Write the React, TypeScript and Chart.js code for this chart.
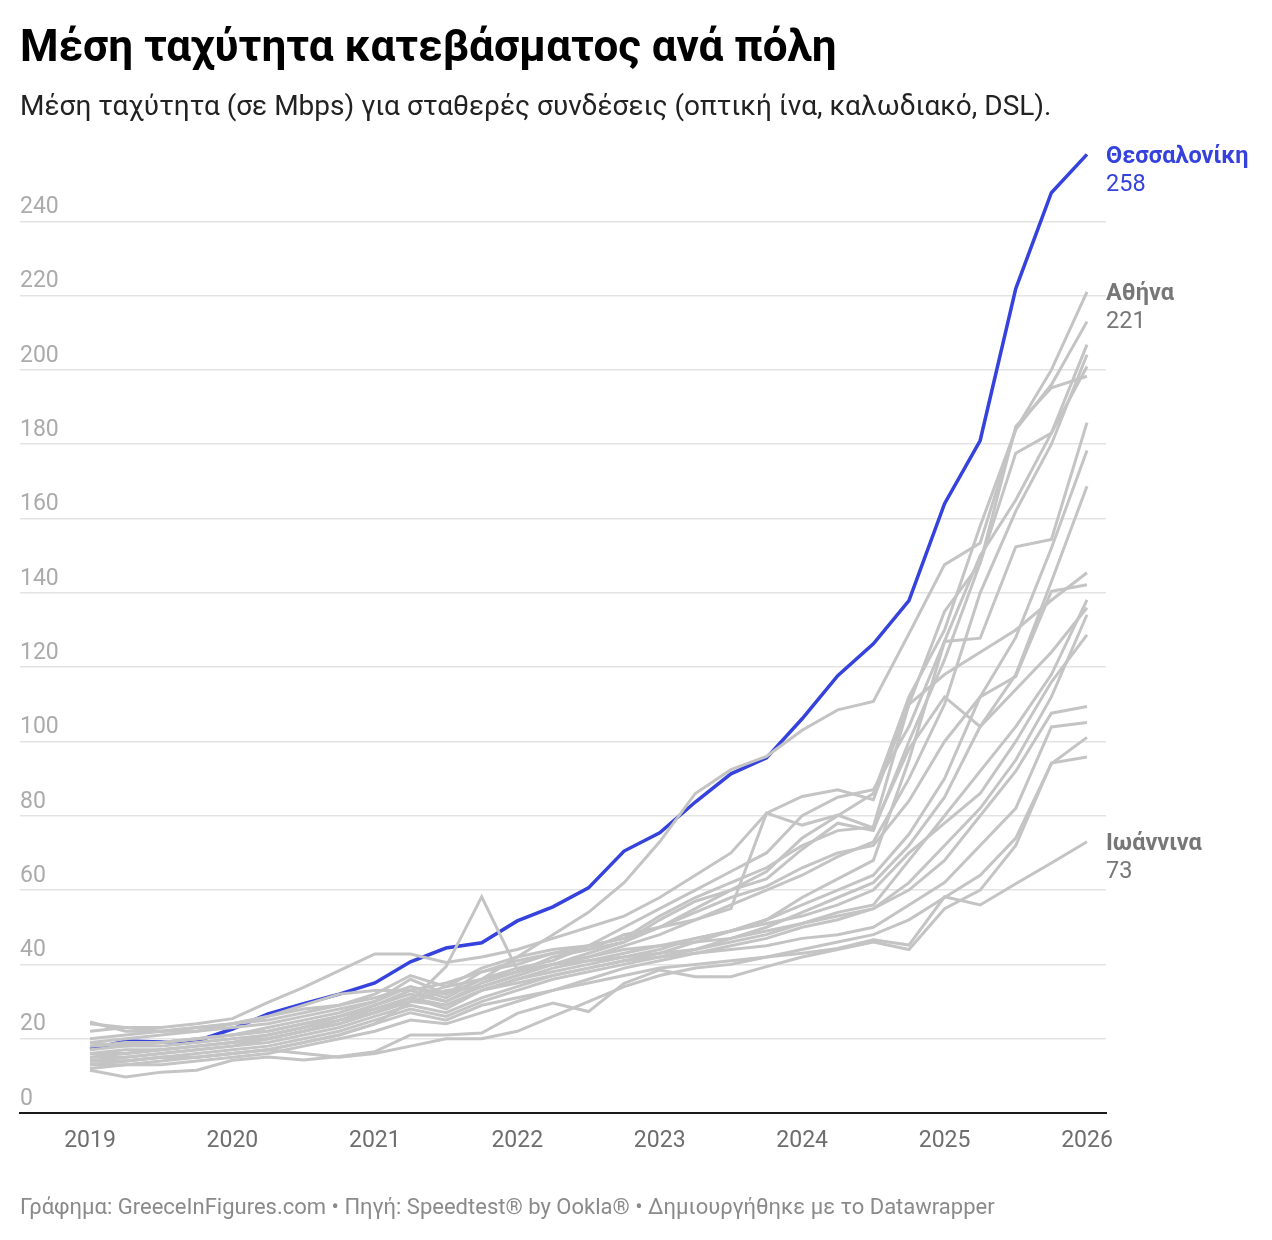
import { useEffect, useRef } from "react";
import { Chart, registerables } from "chart.js";

Chart.register(...registerables);

// Quarterly observations, 2019 Q1 – 2026 Q1
const QUARTERS = [
  "2019 Q1", "2019 Q2", "2019 Q3", "2019 Q4",
  "2020 Q1", "2020 Q2", "2020 Q3", "2020 Q4",
  "2021 Q1", "2021 Q2", "2021 Q3", "2021 Q4",
  "2022 Q1", "2022 Q2", "2022 Q3", "2022 Q4",
  "2023 Q1", "2023 Q2", "2023 Q3", "2023 Q4",
  "2024 Q1", "2024 Q2", "2024 Q3", "2024 Q4",
  "2025 Q1", "2025 Q2", "2025 Q3", "2025 Q4",
  "2026 Q1",
];

const Y_TICKS = [0, 20, 40, 60, 80, 100, 120, 140, 160, 180, 200, 220, 240];

// Highlighted city
const THESSALONIKI = [17.2, 19.4, 19.1, 19.4, 22.6, 26.7, 29.4, 32, 35, 40.7, 44.4, 45.8, 51.7, 55.5, 60.6, 70.5, 75.4, 83.7, 91.3, 95.6, 106.1, 117.7, 126.3, 137.9, 164, 181, 221.9, 247.7, 258];

// Labelled grey cities
const ATHENS = [18, 18.5, 19, 20, 21, 22, 24, 26, 28, 31, 34, 36, 42, 48, 54, 62, 73, 86, 92.4, 96, 103, 108.5, 110.8, 129, 147.6, 153.4, 184, 200, 221];
const IOANNINA = [14, 14, 15, 15, 16, 17, 16, 15, 16, 18, 20, 20, 22, 26, 30, 34, 37, 39, 40, 42, 43, 44.3, 46.6, 45.2, 58.2, 56, 61.7, 67.3, 73];

// Remaining cities (unlabelled grey lines)
const CITY_03 = [15, 16, 17, 18, 19, 21, 23, 26, 29, 33, 30, 35, 38, 42, 44, 48, 50, 55, 60, 65, 74, 80, 86, 112, 130, 158, 184, 196, 213];
const CITY_04 = [24, 23, 22, 22, 23, 24, 26, 28, 30, 36, 32, 38, 40, 43, 44, 46, 52, 57, 60, 63, 71, 78, 76, 100, 122, 148, 177.6, 183, 206.8];
const CITY_05 = [14, 15, 16, 17, 18, 20, 22, 24, 27, 30, 33, 34, 37, 40, 42, 45, 48, 52, 56, 60, 64, 69, 73, 90, 110, 140, 162, 180, 204.1];
const CITY_06 = [17, 18, 19, 20, 21, 23, 25, 27, 30, 34, 31, 36, 39, 41, 45, 50, 55, 60, 65, 70, 80, 85, 87, 104, 127, 150, 165, 183, 200.9];
const CITY_07 = [19, 20, 21, 22, 24, 26, 28, 29, 32, 37, 34, 39, 42, 44, 45, 47, 53, 58, 62, 66, 72, 76, 77, 110, 135, 148, 184.8, 195.2, 198.3];
const CITY_08 = [16, 17, 17, 18, 19, 20, 22, 24, 27, 31, 28, 33, 36, 38, 40, 42, 44, 47, 49, 52, 58, 63, 68, 95, 126.9, 127.8, 152.4, 154.4, 185.8];
const CITY_09 = [15, 15, 16, 17, 18, 19, 21, 23, 26, 29, 27, 31, 34, 37, 39, 41, 43, 46, 49, 52, 56, 60, 64, 75, 90, 112, 128, 152, 178.3];
const CITY_10 = [13, 14, 15, 16, 17, 18, 20, 22, 25, 28, 26, 30, 33, 36, 38, 40, 42, 44, 47, 50, 54, 58, 62, 72, 85, 104, 118, 143, 168.7];
const CITY_11 = [22, 23, 23, 24, 25.4, 29.8, 33.8, 38.3, 42.8, 42.8, 40.5, 42, 44, 47, 50, 53, 58, 64, 70, 80.7, 85.2, 87, 84.3, 110, 118, 124, 130, 138, 145.4];
const CITY_12 = [18, 19, 19, 20, 21, 22, 24, 26, 29, 32, 30, 34, 37, 40, 43, 46, 50, 54, 58, 61, 66, 70, 72, 84, 100, 112, 117.5, 140.4, 142.2];
const CITY_13 = [14, 14, 15, 15, 16, 17, 19, 21, 24, 30, 39.4, 58.2, 38.5, 40, 41, 42, 43, 44, 46, 48, 51, 54, 56, 68, 80, 92, 104, 118, 138.1];
const CITY_14 = [20, 21, 22, 23, 24, 26, 29, 32, 33, 33, 35, 38, 41, 43, 45, 47, 50, 52, 55, 80.7, 77.5, 80.2, 76.7, 98, 112, 104, 114, 124, 136];
const CITY_15 = [12, 13, 13, 14, 15, 16, 18, 20, 22, 25, 24, 27, 30, 33, 36, 39, 41, 43, 45, 47, 50, 52, 55, 62, 72, 82, 95, 112, 134.1];
const CITY_16 = [16, 16, 17, 18, 19, 20, 22, 25, 28, 31, 29, 33, 36, 39, 41, 43, 45, 47, 49, 51, 53, 56, 60, 70, 78, 86, 100, 116, 128.7];
const CITY_17 = [24.5, 22, 22, 23, 24, 25, 27, 29, 31, 34, 32, 36, 38, 40, 42, 44, 45, 46, 47, 49, 51, 53, 55, 60, 68, 80, 92, 107.6, 109.4];
const CITY_18 = [19, 18, 18, 19, 20, 21, 23, 25, 27, 30, 29, 33, 35, 37, 39, 41, 42, 43, 44, 45, 47, 48, 50, 56, 62, 72, 82, 103.9, 105.1];
const CITY_19 = [13, 13, 14, 15, 16, 17, 19, 21, 24, 27, 25, 29, 31, 33, 35, 37, 39, 40, 41, 42, 44, 46, 48, 52, 58, 64, 74, 94, 101.1];
const CITY_20 = [11.5, 9.7, 11, 11.5, 14.2, 15.1, 14.3, 15.2, 16.5, 21, 21, 21.5, 26.8, 29.6, 27.3, 34.9, 38.5, 36.7, 36.7, 39.4, 42, 44, 46, 44, 55, 60, 72, 94.2, 95.8];

const GREY_SERIES = [
  CITY_03, CITY_04, CITY_05, CITY_06, CITY_07, CITY_08, CITY_09, CITY_10,
  CITY_11, CITY_12, CITY_13, CITY_14, CITY_15, CITY_16, CITY_17, CITY_18,
  CITY_19, CITY_20,
];

const BLUE = "#3543dc";
const GREY_LINE = "#c4c4c4";
const GREY_TEXT = "#777777";
const FONT = "Roboto, 'Noto Sans', sans-serif";

type EndLabel = { name: string; color: string };

const toPoints = (values: number[]) => values.map((y, i) => ({ x: i, y }));

const endLabelPlugin = {
  id: "endLabels",
  afterDatasetsDraw(chart: any) {
    const { ctx } = chart;
    const xRight = chart.chartArea.right;
    chart.data.datasets.forEach((ds: any, di: number) => {
      const lbl: EndLabel | undefined = ds.endLabel;
      if (!lbl) return;
      const meta = chart.getDatasetMeta(di);
      const last = meta.data[meta.data.length - 1];
      const value = ds.data[ds.data.length - 1].y;
      ctx.save();
      ctx.fillStyle = lbl.color;
      ctx.textAlign = "left";
      ctx.textBaseline = "middle";
      ctx.font = `bold 23.5px ${FONT}`;
      ctx.fillText(lbl.name, xRight, last.y + 2.5);
      ctx.font = `23.5px ${FONT}`;
      ctx.fillText(String(Math.round(value)), xRight, last.y + 30.5);
      ctx.restore();
    });
  },
};

export default function App() {
  const canvasRef = useRef<HTMLCanvasElement | null>(null);

  useEffect(() => {
    if (!canvasRef.current) return;

    const greyDatasets = GREY_SERIES.map((values, k) => ({
      label: `city-${k + 3}`,
      data: toPoints(values),
      borderColor: GREY_LINE,
      borderWidth: 3,
      pointRadius: 0,
      tension: 0,
    }));

    const yearTickIndexes = QUARTERS.map((q, i) => (q.endsWith("Q1") ? i : -1)).filter((i) => i >= 0);

    const chart = new Chart(canvasRef.current, {
      type: "line",
      data: {
        datasets: [
          ...greyDatasets,
          {
            label: "Ιωάννινα",
            data: toPoints(IOANNINA),
            borderColor: GREY_LINE,
            borderWidth: 3,
            pointRadius: 0,
            tension: 0,
            endLabel: { name: "Ιωάννινα", color: GREY_TEXT },
          } as any,
          {
            label: "Αθήνα",
            data: toPoints(ATHENS),
            borderColor: GREY_LINE,
            borderWidth: 3,
            pointRadius: 0,
            tension: 0,
            endLabel: { name: "Αθήνα", color: GREY_TEXT },
          } as any,
          {
            label: "Θεσσαλονίκη",
            data: toPoints(THESSALONIKI),
            borderColor: BLUE,
            borderWidth: 3.5,
            pointRadius: 0,
            tension: 0,
            endLabel: { name: "Θεσσαλονίκη", color: BLUE },
          } as any,
        ],
      },
      options: {
        animation: false,
        responsive: false,
        maintainAspectRatio: false,
        layout: { padding: { left: 20, right: 166, top: 147, bottom: 67 } },
        plugins: {
          legend: { display: false },
          tooltip: { enabled: false },
        },
        scales: {
          x: {
            type: "linear",
            min: -1.966,
            max: 28.534,
            afterBuildTicks: (scale: any) => {
              scale.ticks = yearTickIndexes.map((value) => ({ value }));
            },
            afterFit: (scale: any) => {
              scale.height = 60;
            },
            grid: { display: false, drawTicks: false },
            border: { display: true, color: "#1a1a1a", width: 2 },
            ticks: {
              autoSkip: false,
              maxRotation: 0,
              padding: 14,
              color: "#6e6e6e",
              font: { family: FONT, size: 23 },
              callback: (v: any) => QUARTERS[v as number].slice(0, 4),
            },
          },
          y: {
            min: 0,
            max: 260,
            afterBuildTicks: (scale: any) => {
              scale.ticks = Y_TICKS.map((value) => ({ value }));
            },
            afterFit: (scale: any) => {
              scale.width = 0;
            },
            grid: {
              color: (c: any) => (c.tick && c.tick.value === 0 ? "rgba(0,0,0,0)" : "#e3e3e3"),
              lineWidth: 1.5,
              drawTicks: false,
            },
            border: { display: false },
            ticks: {
              mirror: true,
              padding: 0,
              labelOffset: -14,
              color: "#ababab",
              font: { family: FONT, size: 23 },
            },
          },
        },
      },
      plugins: [endLabelPlugin],
    } as any);

    return () => chart.destroy();
  }, []);

  return (
    <div style={{ position: "absolute", left: 0, top: 0, width: 1272, height: 1240, background: "#fff", fontFamily: FONT }}>
      <canvas ref={canvasRef} width={1272} height={1240} style={{ position: "absolute", left: 0, top: 0 }} />
      <div style={{ position: "absolute", left: 20, top: 18, fontSize: 44, fontWeight: 700, color: "#000", lineHeight: "56px", whiteSpace: "nowrap" }}>
        Μέση ταχύτητα κατεβάσματος ανά πόλη
      </div>
      <div style={{ position: "absolute", left: 20, top: 88, fontSize: 28, color: "#222", lineHeight: "36px", whiteSpace: "nowrap" }}>
        Μέση ταχύτητα (σε Mbps) για σταθερές συνδέσεις (οπτική ίνα, καλωδιακό, DSL).
      </div>
      <div style={{ position: "absolute", left: 20, top: 1192, fontSize: 22, color: "#8a8a8a", lineHeight: "30px", whiteSpace: "nowrap" }}>
        Γράφημα: GreeceInFigures.com • Πηγή: Speedtest® by Ookla® • Δημιουργήθηκε με το Datawrapper
      </div>
    </div>
  );
}
